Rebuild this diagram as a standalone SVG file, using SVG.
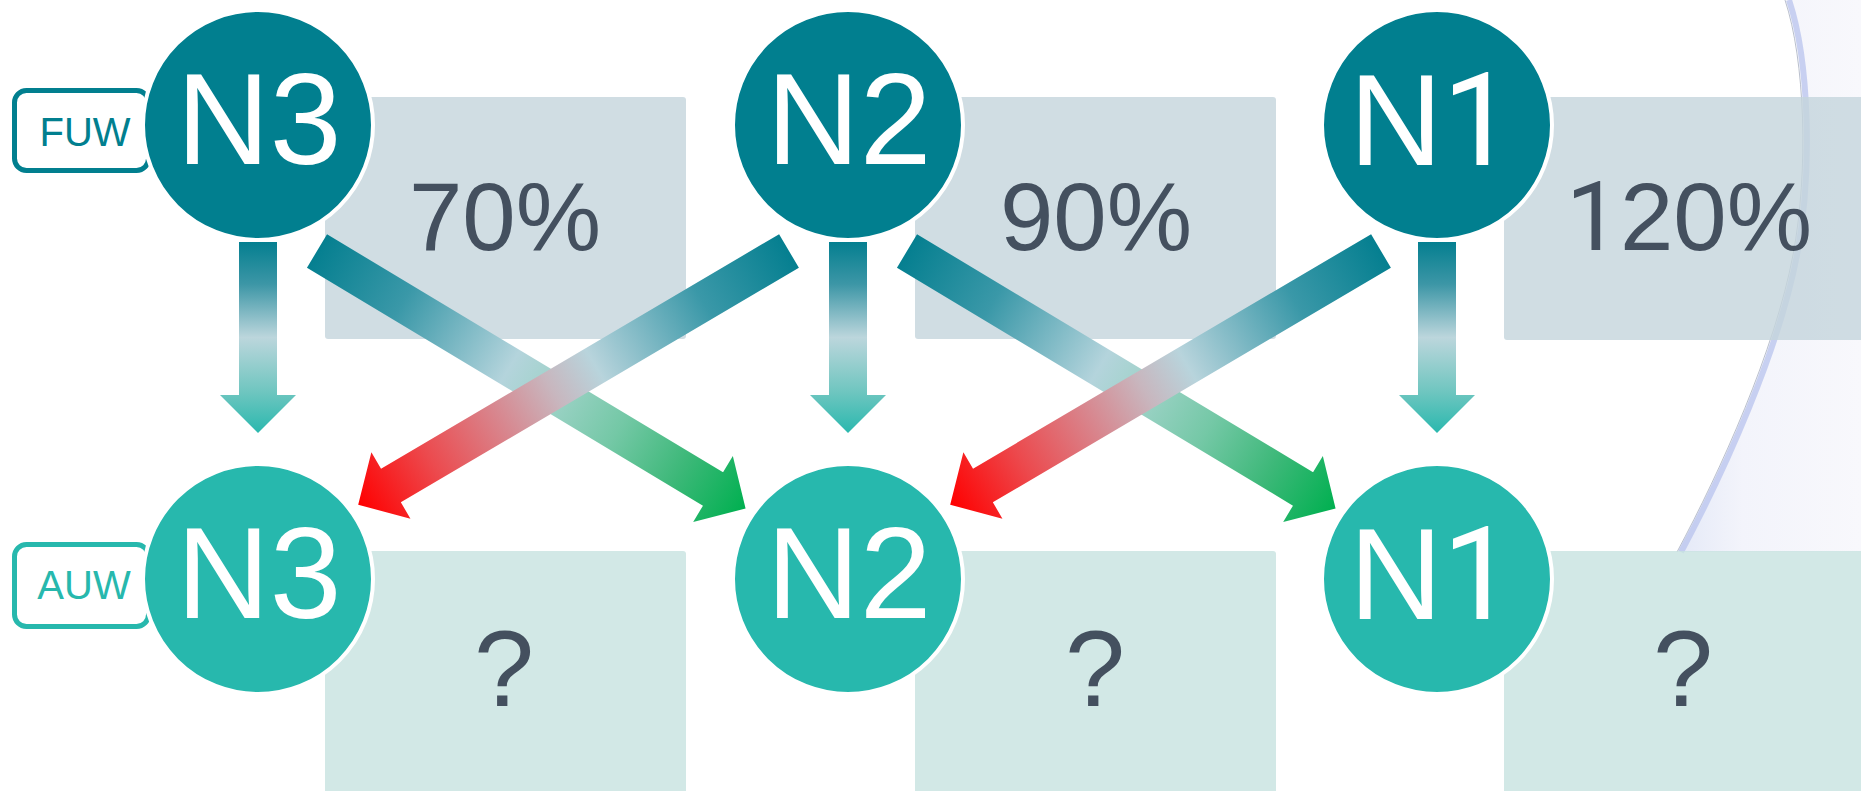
<svg xmlns="http://www.w3.org/2000/svg" width="1861" height="791" viewBox="0 0 1861 791">
  <defs>
    <style>
      .top { fill: #017f8f; stroke: #ffffff; stroke-width: 4; }
      .bot { fill: #27b8ad; stroke: #ffffff; stroke-width: 4; }
      .nlabel { font-family: "Liberation Sans", Arial, sans-serif; font-size: 129px; fill: #ffffff; text-anchor: middle; }
      .pct { font-family: "Liberation Sans", Arial, sans-serif; font-size: 96px; fill: #44505f; text-anchor: middle; }
      .q { font-family: "Liberation Sans", Arial, sans-serif; font-size: 108px; fill: #44505f; text-anchor: middle; }
      .one { font-family: Roboto, "Liberation Sans", sans-serif; }
      .boxT { fill: #c4d4dc; fill-opacity: 0.8; }
      .boxB { fill: #c7e2e0; fill-opacity: 0.8; }
      .tag { fill: #ffffff; stroke-width: 5; }
      .tagtxt { font-family: "Liberation Sans", Arial, sans-serif; font-size: 40px; text-anchor: middle; }
    </style>
    <linearGradient id="gV" x1="0" y1="0" x2="0" y2="1">
      <stop offset="0" stop-color="#047f90"/>
      <stop offset="0.22" stop-color="#3c96a6"/>
      <stop offset="0.5" stop-color="#bcd6dc"/>
      <stop offset="0.78" stop-color="#70c6c0"/>
      <stop offset="1" stop-color="#2ab8ae"/>
    </linearGradient>
    <linearGradient id="gRed" x1="0" y1="0" x2="1" y2="0">
      <stop offset="0" stop-color="#057f90"/>
      <stop offset="0.2" stop-color="#3a98a8"/>
      <stop offset="0.45" stop-color="#b8d4dc"/>
      <stop offset="0.55" stop-color="#c8b6be"/>
      <stop offset="0.67" stop-color="#d8868e"/>
      <stop offset="0.83" stop-color="#ec4a4e"/>
      <stop offset="1" stop-color="#ff0000"/>
    </linearGradient>
    <linearGradient id="gGreen" x1="0" y1="0" x2="1" y2="0">
      <stop offset="0" stop-color="#057f90"/>
      <stop offset="0.2" stop-color="#3a98a8"/>
      <stop offset="0.45" stop-color="#b4d4dc"/>
      <stop offset="0.56" stop-color="#9cd2c6"/>
      <stop offset="0.7" stop-color="#74c8a6"/>
      <stop offset="0.85" stop-color="#3cb878"/>
      <stop offset="1" stop-color="#00b050"/>
    </linearGradient>
    <linearGradient id="gBg" x1="0" y1="0" x2="1" y2="0">
      <stop offset="0" stop-color="#e4e9f7"/>
      <stop offset="0.35" stop-color="#f3f4fb"/>
      <stop offset="1" stop-color="#f8f8fc"/>
    </linearGradient>
    <path id="diag" d="M0,-19.5 H462 V-38.5 L500,0 L462,38.5 V19.5 H0 Z"/>
  </defs>

  <rect x="0" y="0" width="1861" height="791" fill="#ffffff"/>

  <!-- background swoosh -->
  <g id="background">
    <path d="M1786,0 C1806,60 1810,170 1794,255 C1776,350 1722,470 1678,552 L1861,552 L1861,0 Z" fill="url(#gBg)"/>
    <path d="M1789,0 C1809,60 1813,170 1797,255 C1779,350 1725,470 1681,552" fill="none" stroke="#b8c3ee" stroke-width="6" stroke-opacity="0.75"/>
    <path d="M1785,0 C1805,60 1809,170 1793,255 C1775,350 1721,470 1677,552" fill="none" stroke="#8a94ac" stroke-width="1" stroke-opacity="0.6"/>
  </g>

  <!-- info boxes -->
  <g id="box-top-n3"><rect class="boxT" x="325" y="97" width="361" height="242" rx="3"/><text class="pct" x="505" y="250">70%</text></g>
  <g id="box-top-n2"><rect class="boxT" x="915" y="97" width="361" height="242" rx="3"/><text class="pct" x="1096" y="250">90%</text></g>
  <g id="box-top-n1"><rect class="boxT" x="1504" y="97" width="361" height="243" rx="3"/><text class="pct" x="1689" y="250"><tspan class="one">1</tspan>20%</text></g>
  <g id="box-bot-n3"><rect class="boxB" x="325" y="551" width="361" height="245" rx="3"/><text class="q" x="504" y="706">?</text></g>
  <g id="box-bot-n2"><rect class="boxB" x="915" y="551" width="361" height="245" rx="3"/><text class="q" x="1095" y="706">?</text></g>
  <g id="box-bot-n1"><rect class="boxB" x="1504" y="551" width="361" height="245" rx="3"/><text class="q" x="1683" y="706">?</text></g>

  <!-- row tags -->
  <g id="tag-fuw"><rect class="tag" x="14.5" y="90.5" width="134" height="80" rx="12" stroke="#017f8f"/><text class="tagtxt" x="85" y="146" fill="#017f8f">FUW</text></g>
  <g id="tag-auw"><rect class="tag" x="14.5" y="544.5" width="134" height="82" rx="12" stroke="#27b8ad"/><text class="tagtxt" x="84" y="599" fill="#27b8ad">AUW</text></g>

  <!-- nodes -->
  <g id="fuw-n3"><circle class="top" cx="258" cy="125" r="115"/><text class="nlabel" x="259" y="164">N3</text></g>
  <g id="fuw-n2"><circle class="top" cx="848" cy="125" r="115"/><text class="nlabel" x="849" y="164">N2</text></g>
  <g id="fuw-n1"><circle class="top" cx="1437" cy="125" r="115"/><text class="nlabel" x="1432" y="165">N<tspan class="one">1</tspan></text></g>
  <g id="auw-n3"><circle class="bot" cx="258" cy="579" r="115"/><text class="nlabel" x="259" y="618">N3</text></g>
  <g id="auw-n2"><circle class="bot" cx="848" cy="579" r="115"/><text class="nlabel" x="849" y="618">N2</text></g>
  <g id="auw-n1"><circle class="bot" cx="1437" cy="579" r="115"/><text class="nlabel" x="1432" y="619">N<tspan class="one">1</tspan></text></g>

  <!-- connectors -->
  <g id="connectors">
    <path d="M239,242 H277 V395 H296 L258,433 L220,395 H239 Z" fill="url(#gV)"/>
    <path d="M829,242 H867 V395 H886 L848,433 L810,395 H829 Z" fill="url(#gV)"/>
    <path d="M1418,242 H1456 V395 H1475 L1437,433 L1399,395 H1418 Z" fill="url(#gV)"/>
    <use href="#diag" fill="url(#gGreen)" transform="translate(317,251) rotate(31)"/>
    <use href="#diag" fill="url(#gGreen)" transform="translate(907,251) rotate(31)"/>
    <use href="#diag" fill="url(#gRed)" transform="translate(789,251) rotate(149.5)"/>
    <use href="#diag" fill="url(#gRed)" transform="translate(1381,251) rotate(149.5)"/>
  </g>
</svg>
